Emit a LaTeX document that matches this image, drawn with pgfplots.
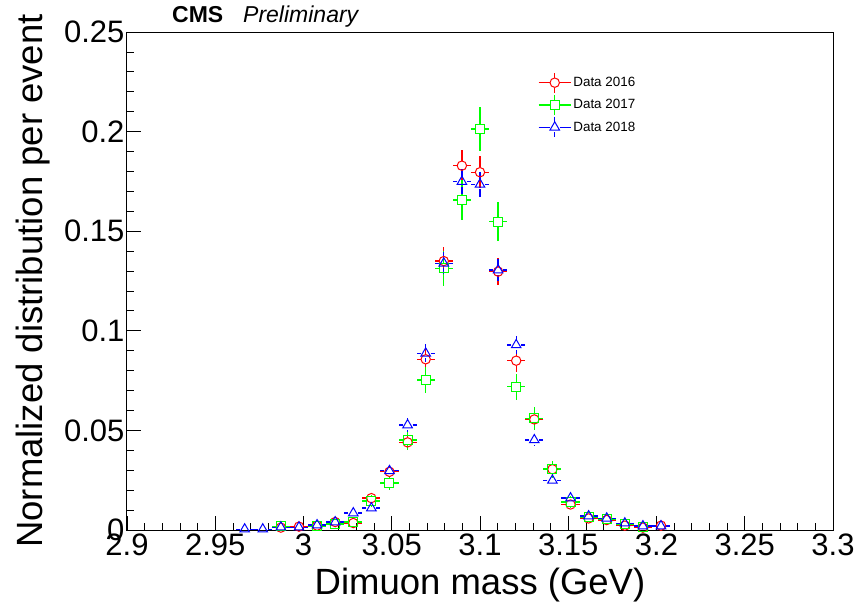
\documentclass[border=0pt]{standalone}
\usepackage{fontspec}
\setmainfont{Liberation Sans}
\usepackage{pgfplots}
\pgfplotsset{compat=1.18}
\definecolor{rred}{RGB}{255,0,0}
\definecolor{rgreen}{RGB}{0,255,0}
\definecolor{rblue}{RGB}{0,0,255}
\begin{document}
\begin{tikzpicture}
\useasboundingbox (-127pt,-81pt) rectangle (729pt,530pt);
\begin{axis}[
  at={(0,0)}, anchor=south west,
  scale only axis, width=706pt, height=498pt,
  xmin=2.9, xmax=3.3, ymin=0, ymax=0.25,
  xtick={2.9,2.95,3,3.05,3.1,3.15,3.2,3.25,3.3},
  ytick={0,0.05,0.1,0.15,0.2,0.25},
  minor x tick num=4, minor y tick num=4,
  xtick pos=left, ytick pos=left, tick align=inside,
  major tick length=14pt, minor tick length=7pt,
  axis line style={line width=1pt},
  every tick/.style={black, line width=0.8pt},
  scaled x ticks=false, scaled y ticks=false,
  /pgf/number format/assume math mode=true,
  xticklabel style={font=\fontsize{31}{36}\selectfont, /pgf/number format/fixed, /pgf/number format/precision=2},
  yticklabel style={font=\fontsize{31}{36}\selectfont, /pgf/number format/fixed, /pgf/number format/precision=2, xshift=1pt},
  xlabel={Dimuon mass (GeV)}, ylabel={Normalized distribution per event},
  every axis x label/.style={at={(axis description cs:0.5,-0.110)}, anchor=center, font=\fontsize{36.5}{42}\selectfont},
  every axis y label/.style={at={(axis description cs:-0.133,0.5)}, anchor=center, rotate=90, font=\fontsize{36.5}{42}\selectfont},
  clip=false,
  error bars/y dir=both, error bars/y explicit,
  error bars/x dir=both, error bars/x fixed=0.005128,
  error bars/error mark=none,
  error bars/error bar style={line width=1.3pt, dash pattern=on 0pt off 5pt on 300pt},
  legend style={at={(rel axis cs:0.582,0.92)}, anchor=north west, draw=none, fill=none,
    font=\fontsize{13.4}{16}\selectfont, row sep=1pt, inner sep=0pt},
  legend cell align=left,
  legend image code/.code={
    \draw[#1,mark=none,line width=1.3pt] (0pt,0pt) -- (11pt,0pt) (21pt,0pt) -- (32pt,0pt) (16pt,5pt) -- (16pt,10pt) (16pt,-5pt) -- (16pt,-10pt);
    \draw[#1] plot coordinates {(16pt,0pt)};
  },
]
\addplot[only marks, color=rred, mark=o, mark size=4.7pt, mark options={line width=1pt}]
table[x=x, y=y, y error=e] {
x y e
2.98718 0.0012 0.00065
2.99744 0.0017 0.00077
3.00769 0.0022 0.00088
3.01795 0.0040 0.00118
3.02821 0.0035 0.00111
3.03846 0.0160 0.00237
3.04872 0.0292 0.00320
3.05897 0.0440 0.00392
3.06923 0.0857 0.00547
3.07949 0.1350 0.00687
3.08974 0.1829 0.00800
3.10000 0.1796 0.00793
3.11026 0.1297 0.00673
3.12051 0.0850 0.00545
3.13077 0.0555 0.00441
3.14103 0.0305 0.00327
3.15128 0.0128 0.00212
3.16154 0.0058 0.00142
3.17179 0.0050 0.00132
3.18205 0.0022 0.00088
3.19231 0.0012 0.00065
3.20256 0.0022 0.00088
};
\addlegendentry{Data 2016}
\addplot[only marks, color=rgreen, mark=square, mark size=4.5pt, mark options={line width=1pt}]
table[x=x, y=y, y error=e] {
x y e
2.98718 0.0018 0.00104
3.00769 0.0020 0.00110
3.01795 0.0030 0.00134
3.02821 0.0040 0.00155
3.03846 0.0145 0.00295
3.04872 0.0236 0.00376
3.05897 0.0452 0.00521
3.06923 0.0753 0.00672
3.07949 0.1314 0.00888
3.08974 0.1657 0.00997
3.10000 0.2013 0.01099
3.11026 0.1548 0.00964
3.12051 0.0719 0.00657
3.13077 0.0560 0.00580
3.14103 0.0306 0.00429
3.15128 0.0140 0.00290
3.16154 0.0066 0.00199
3.17179 0.0055 0.00182
3.18205 0.0030 0.00134
3.19231 0.0016 0.00098
};
\addlegendentry{Data 2017}
\addplot[only marks, color=rblue, mark=triangle, mark size=5.5pt, mark options={line width=1pt}]
table[x=x, y=y, y error=e] {
x y e
2.96667 0.0004 0.00030
2.97692 0.0004 0.00030
2.98718 0.0014 0.00056
2.99744 0.0014 0.00056
3.00769 0.0025 0.00075
3.01795 0.0040 0.00094
3.02821 0.0085 0.00137
3.03846 0.0110 0.00156
3.04872 0.0297 0.00257
3.05897 0.0527 0.00342
3.06923 0.0887 0.00444
3.07949 0.1339 0.00545
3.08974 0.1749 0.00623
3.10000 0.1735 0.00621
3.11026 0.1305 0.00538
3.12051 0.0929 0.00454
3.13077 0.0452 0.00317
3.14103 0.0249 0.00235
3.15128 0.0160 0.00188
3.16154 0.0070 0.00125
3.17179 0.0059 0.00114
3.18205 0.0034 0.00087
3.19231 0.0020 0.00067
3.20256 0.0020 0.00067
};
\addlegendentry{Data 2018}
\node[anchor=base west, font=\fontsize{23}{27}\selectfont\bfseries, inner sep=0pt] at (rel axis cs:0.0637,1.0197) {CMS};
\node[anchor=base west, font=\fontsize{23}{27}\selectfont\itshape, inner sep=0pt] at (rel axis cs:0.1643,1.0197) {Preliminary};
\end{axis}
\end{tikzpicture}
\end{document}
